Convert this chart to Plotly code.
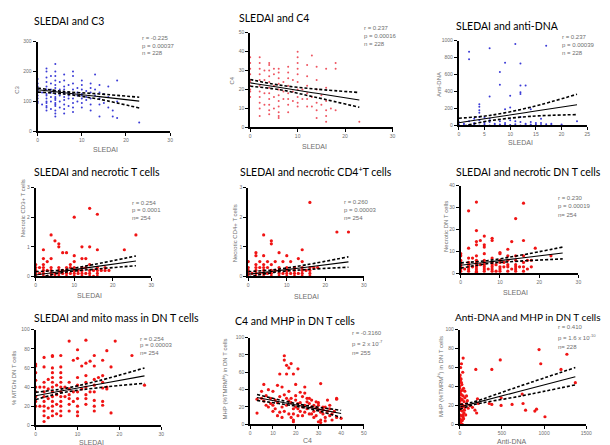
import plotly.graph_objects as go

# ---------------- data ----------------
# 1. SLEDAI vs C3
c3_sledai = [0,0,0,0,0,0,0,0,0,0, 1,1, 2,2,2,2,2,2,2,2,2,2,2,2,2,2, 3,3,3,3,3,3,3,
             4,4,4,4,4,4,4,4,4,4,4,4,4,4,4,4,4, 5,5,5,5,5,5, 6,6,6,6,6,6,6,6,6,6,6,
             7,7,7,7,7, 8,8,8,8,8,8,8,8,8, 9,9,9,9, 10,10,10,10,10,10,10,10, 11,11,11,
             12,12,12,12,12,12, 13,13,13, 14,14,14,14,14, 15,15, 16,16,16, 17,17, 18,18,18, 23]
c3_vals = [95,110,120,130,140,150,160,175,100,135, 90,130,
           70,80,95,110,125,140,150,165,180,200,210,120,100,85, 75,100,130,160,185,140,115,
           50,60,70,85,95,105,115,125,135,145,155,170,185,200,225,110,90, 80,100,120,140,165,130,
           60,75,90,105,115,130,150,170,190,125,140, 85,110,130,155,120,
           65,80,95,110,125,140,160,185,200, 100,120,145,130, 80,95,110,125,140,155,170,120,
           105,135,115, 70,90,110,130,145,160, 120,190,140, 50,90,110,130,155, 95,125,
           80,115,150, 50,70, 45,100,170, 30]

# 2. SLEDAI vs C4
c4_sledai = [0,0,0,0,0,0,0,0,0,0, 2,2,2,2,2,2,2,2,2,2,2, 3,3,3,3, 4,4,4,4,4,4,4,4,4,4,4,
             5,5,5,5,5, 6,6,6,6,6,6,6,6,6,6,6, 7,7,7, 8,8,8,8,8,8,8,8, 9,9,9,
             10,10,10,10,10,10,10,10,10,10, 11,11, 12,12,12,12,12,12, 13,13,13,
             14,14,14,14,14,14, 15,15, 16,16,16,16,16,16, 17, 18,18,18, 23]
c4_vals = [16,19,22,25,28,31,34,37,20,24, 6,10,13,16,19,22,25,28,31,34,37, 12,18,25,30,
           7,9,12,15,18,21,24,27,30,33,34, 10,16,22,28,31, 5,6,8,11,14,17,20,23,26,29,31,
           15,19,24, 8,12,15,18,22,26,29,32, 14,19,25, 11,13,16,20,24,28,31,34,37,40,
           15,20, 11,15,18,22,27,33, 11,16,38, 5,9,13,20,25,32, 12,17, 3,6,9,14,21,31,
           10, 9,31,34, 3]

# 3. SLEDAI vs anti-DNA
dna_sledai = [2,2,6,9,8,8,11,12,12,12,12,13,17,6,10,4,4,4,4,9,10,14,16,23,12,14,
              0,1,2,3,4,4,5,6,6,7,8,8,9,10,10,11,12,13,14,15,16,18,2,3,0,5,
              0,2,4,6,8,10,12,14, 1,3,5,7,9,11,13,15,17,16,18,20]
dna_vals = [870,780,910,740,630,480,960,730,470,390,370,470,940,340,350,250,220,180,150,190,210,190,80,50,100,40,
            10,20,5,30,60,100,10,40,80,20,50,10,30,60,5,15,40,20,10,30,5,20,50,80,40,90,
            0,0,0,0,0,0,0,0, 5,10,30,5,10,50,5,10,15,30,5,10]

# 4. SLEDAI vs necrotic CD3+ T cells
cd3_sledai = [10,14,16,4,5,6,6,26,12,14,16,23,2,7,8,10,9,4,2,3,10,12,13,
              0,0,0,0,0, 2,2,2,2,2, 4,4,4,4, 6,6,6,6, 8,8,8,8, 10,10,10,10, 12,12,12,12,
              14,14,14,14, 16,16,16,16, 17,18,18,19, 3,5,7,9,11,13,15,1, 3,5,7,9,11,13,15,1]
cd3_vals = [2.0,2.3,2.1,1.4,1.2,1.1,1.0,1.4,1.0,1.0,0.9,0.9,0.9,0.8,0.8,0.7,0.4,0.6,0.6,0.5,0.5,0.6,0.6,
            0.4,0.3,0.2,0.1,0.0, 0.4,0.3,0.2,0.1,0.0, 0.3,0.2,0.1,0.0, 0.3,0.2,0.1,0.0,
            0.3,0.2,0.1,0.0, 0.3,0.2,0.1,0.0, 0.3,0.2,0.1,0.0, 0.4,0.2,0.1,0.0, 0.3,0.2,0.1,0.0,
            0.2,0.3,0.2,0.2, 0.2,0.1,0.1,0.1,0.2,0.1,0.2,0.1, 0.0,0.0,0.2,0.3,0.1,0.3,0.0,0.3]

# 5. SLEDAI vs necrotic CD4+ T cells
cd4_sledai = [16,23,26,4,6,6,14,2,2,4,8,10,13,14,3,5,7,9,11,0,
              0,0,0,0, 2,2,2,2,2, 4,4,4,4,4, 6,6,6,6, 8,8,8,8, 10,10,10,10, 12,12,12,12,
              14,14,14,14, 16,16,16,16, 17,18, 3,5,7,9,11,13,15,1,3,5]
cd4_vals = [2.5,1.5,1.5,1.4,1.2,1.1,0.9,0.8,0.7,0.7,0.8,0.7,0.6,0.5,0.5,0.5,0.5,0.5,0.5,0.5,
            0.3,0.2,0.1,0.0, 0.4,0.3,0.2,0.1,0.0, 0.4,0.3,0.2,0.1,0.0, 0.4,0.2,0.1,0.0,
            0.3,0.2,0.1,0.0, 0.3,0.2,0.1,0.0, 0.3,0.2,0.1,0.0, 0.3,0.2,0.1,0.0, 0.3,0.2,0.1,0.0,
            0.3,0.3, 0.1,0.1,0.2,0.1,0.1,0.1,0.2,0.1,0.3,0.3]

# 6. SLEDAI vs necrotic DN T cells
dn_sledai = [4,16,2,14,4,6,8,8,16,13,4,5,4,6,6,2,12,19,10,10,0,0,12,14,16,4,6,23,2,3,18,
             0,0,0,0,0,0, 2,2,2,2,2, 4,4,4,4,4,4,4, 6,6,6,6,6,6, 8,8,8,8,8,8, 10,10,10,10,10,
             12,12,12,12, 14,14,14,14,14, 16,16,16, 17,18,1,3,5,7,9,11,13,15,17,11,9]
dn_vals = [32.5,32,28.5,25,19.5,17,16,15,15,14.5,14.5,15,13,13,12,11.5,11,11.5,9.5,9,9,8,8,8,8,8,9,8,7,7,6,
           6,5,4,3,2,1, 5,4,3,2,1, 6,5,4,3,2,1,0.5, 6,5,4,3,2,1, 7,5,4,3,2,1, 6,5,3,2,1,
           6,4,3,1, 6,4,3,2,1, 5,3,1, 2,3,2,3,4,2,4,3,2,3,6,5,1]

# 7. SLEDAI vs % MTGhi DN T cells
mtg_sledai = [8,12,19,23,26,17,10,14,4,4,6,2,0,0,0,9,10,11,13,16,12,18,14,2,4,6,
              0,0,0,0,0,0, 2,2,2,2,2,2,2,2,2, 3,3,3,3, 4,4,4,4,4,4,4,4,4,4, 5,5,5,5,
              6,6,6,6,6,6,6,6,6,6, 7,7, 8,8,8,8,8,8, 9,9, 10,10,10,10,10,10,10, 11,
              12,12,12,12,12,12, 13, 14,14,14,14,14,14, 15, 16,16,16,16,16, 17,17,18,1,1,3]
mtg_vals = [88,89,88,73,42,78,79,73,73,72,73,71,64,62,55,68,70,62,67,68,65,61,62,61,60,61,
            47,40,35,30,25,20, 45,40,35,30,25,20,15,10,4, 48,38,28,18,
            55,50,45,40,35,30,25,20,15,10, 42,32,22,12, 55,50,45,40,35,30,25,20,15,10, 40,30,
            45,38,32,28,22,15, 35,25, 50,42,35,28,20,14,10, 38, 52,45,40,32,28,22, 35,
            48,42,35,26,20,15, 50, 52,45,39,25,21, 40,38,13,20,40,8]

# 8. C4 vs MHP in DN T cells
mhp_c4 = [15,15,16,17,18,21,16,13,19,31,6,12,20,14,24,5,8,10,17,22,38,38,34,3,3,
          7,9,11,13,15,18,20,23,25,27,29,30,32,35,37,40,
          10,12,14,15,16,17,18,19,20,21,22,23,24,25,26,27,28,29,30,30,31,31,32,33,34,35,36,36,38,
          8,9,11,12,13,14,19,21,22,24,26,28,30,32,33,
          19,20,21,23,25,27,29,10,16,17,24,26,28,31,33,35,6,7,5,18,19]
mhp_c4_vals = [79,74,68,65,70,64,58,58,58,47,46,45,46,43,43,38,40,38,38,37,30,29,28,29,13,
               33,30,28,32,34,30,33,32,30,28,26,22,20,18,15,7,
               22,25,20,15,22,12,25,18,20,24,15,20,22,18,12,20,15,10,17,3,14,5,12,8,15,10,12,5,8,
               20,24,18,10,14,8,5,10,25,14,24,22,25,17,20,
               12,28,18,10,26,12,19,15,30,27,36,30,8,2,4,22,27,22,30,8,3]

# 9. anti-DNA vs MHP in DN T cells
mhp_dna = [940,1270,40,480,960,20,190,380,1200,1370,740,
           10,0,20,0,0,30,10,0,20,40,0,10,30,50,0,20,40,60,0,10,30,50,0,20,40,0,10,30,0,
           60,80,100,70,90,210,220,180,350,380,490,620,750,780,890,910,1010,490,
           5,15,25,45,0,35,10,60,80,120,150,200,5,15,25,35,45,55,0,10,30]
mhp_dna_vals = [79,74,70,68,64,64,58,58,58,44,32,
                47,45,44,40,38,36,35,33,31,30,28,27,26,24,22,21,20,18,16,15,14,12,10,9,8,6,5,4,3,
                28,22,17,10,25,27,22,15,22,21,20,21,22,15,14,16,8,28,
                52,48,42,38,50,55,60,35,30,20,18,12,25,32,18,10,6,15,0,2,0]

# regression lines and 95% bands (read at a few x positions)
fit_sledai = [0, 6, 14, 23]
c3_fit, c3_hi, c3_lo = [139, 129, 116, 101], [145, 133, 125, 114], [131, 125, 107, 78]
c4_fit, c4_hi, c4_lo = [23.5, 21.2, 18.0, 14.5], [25.3, 22.4, 20.2, 18.4], [21.7, 20.0, 15.8, 10.6]
dna_fit, dna_hi, dna_lo = [31, 87, 161, 244], [85, 118, 215, 368], [-20, 55, 107, 128]
fit_sledai26 = [0, 7, 15, 26]
cd3_fit, cd3_hi, cd3_lo = [0.045, 0.173, 0.32, 0.52], [0.16, 0.22, 0.40, 0.69], [-0.07, 0.13, 0.24, 0.36]
cd4_fit, cd4_hi, cd4_lo = [0.07, 0.183, 0.31, 0.49], [0.16, 0.23, 0.39, 0.66], [-0.02, 0.14, 0.23, 0.31]
dn_fit, dn_hi, dn_lo = [3.7, 5.2, 6.9, 9.3], [4.8, 5.9, 8.2, 12.0], [2.4, 4.5, 5.6, 6.6]
mtg_fit, mtg_hi, mtg_lo = [31, 36.6, 42.9, 51.7], [34.5, 38.6, 46.5, 60], [27, 34.6, 39.3, 44]
fit_c4 = [3, 22, 31, 40]
mhpc4_fit, mhpc4_hi, mhpc4_lo = [31, 21.5, 17, 12.5], [34.3, 23, 19.3, 16.2], [27.5, 20, 14.8, 8.0]
fit_dna = [0, 150, 700, 1370]
mhpdna_fit, mhpdna_hi, mhpdna_lo = [18.4, 21.9, 34.7, 50.3], [20.8, 23.4, 40, 60], [15.6, 20.4, 29.5, 41.7]

W, H = 610, 445
BLUE = '#3b3bd6'
PINK = '#ee5561'
RED = '#f01414'
GREY = '#6e6e6e'

panels = [
    dict(x=c3_sledai, y=c3_vals, color=BLUE, size=2, dom=(29, 163, 31, 122), xr=30, yr=300,
         xt=[0, 10, 20, 30], yt=[0, 100, 200, 300],
         fx=fit_sledai, f=c3_fit, hi=c3_hi, lo=c3_lo,
         title='SLEDAI and C3', tpos=(23, 10),
         stats=['r = -0.225', 'p = 0.00037', 'n = 228'], spos=(133, [27, 35, 43]),
         xlab='SLEDAI', xlpos=(98, 140), ylab='C3', ylpos=(8, 80)),
    dict(x=c4_sledai, y=c4_vals, color=PINK, size=2, dom=(244, 388, 22, 118), xr=30, yr=50,
         xt=[0, 10, 20, 30], yt=[0, 10, 20, 30, 40, 50],
         fx=fit_sledai, f=c4_fit, hi=c4_hi, lo=c4_lo,
         title='SLEDAI and C4', tpos=(231, 7),
         stats=['r = 0.237', 'p = 0.00016', 'n = 228'], spos=(357, [17, 25, 33]),
         xlab='SLEDAI', xlpos=(309, 137), ylab='C4', ylpos=(226, 70)),
    dict(x=dna_sledai, y=dna_vals, color=BLUE, size=2, dom=(455, 585, 30, 116), xr=25, yr=1000,
         xt=[0, 5, 10, 15, 20, 25], yt=[0, 200, 400, 600, 800, 1000],
         fx=fit_sledai, f=dna_fit, hi=dna_hi, lo=dna_lo,
         title='SLEDAI and anti-DNA', tpos=(450, 15),
         stats=['r = 0.237', 'p = 0.00039', 'n = 228'], spos=(557, [26, 34, 43]),
         xlab='SLEDAI', xlpos=(517, 133), ylab='Anti-DNA', ylpos=(435, 75)),
    dict(x=cd3_sledai, y=cd3_vals, color=RED, size=3.2, dom=(27, 144, 179, 269), xr=30, yr=3,
         xt=[0, 10, 20, 30], yt=[0, 1, 2, 3],
         fx=fit_sledai26, f=cd3_fit, hi=cd3_hi, lo=cd3_lo,
         title='SLEDAI and necrotic T cells', tpos=(23, 163),
         stats=['r = 0.254', 'p = 0.0001', 'n= 254'], spos=(122, [195, 202, 210]),
         xlab='SLEDAI', xlpos=(81, 288), ylab='Necrotic CD3+ T cells', ylpos=(14, 200)),
    dict(x=cd4_sledai, y=cd4_vals, color=RED, size=3.2, dom=(242, 359, 179, 269), xr=30, yr=3,
         xt=[0, 10, 20, 30], yt=[0, 1, 2, 3],
         fx=fit_sledai26, f=cd4_fit, hi=cd4_hi, lo=cd4_lo,
         title='SLEDAI and necrotic CD4<sup>+</sup>T cells', tpos=(232, 163),
         stats=['r = 0.260', 'p = 0.00003', 'n= 254'], spos=(337, [194, 202, 210]),
         xlab='SLEDAI', xlpos=(301, 289), ylab='Necrotic CD4+ T cells', ylpos=(229, 225)),
    dict(x=dn_sledai, y=dn_vals, color=RED, size=3.2, dom=(457, 576, 177, 266), xr=30, yr=40,
         xt=[0, 10, 20, 30], yt=[0, 10, 20, 30, 40],
         fx=fit_sledai26, f=dn_fit, hi=dn_hi, lo=dn_lo,
         title='SLEDAI and necrotic DN T cells', tpos=(450, 163),
         stats=['r = 0.230', 'p = 0.00019', 'n= 254'], spos=(553, [190, 198, 207]),
         xlab='SLEDAI', xlpos=(512, 285), ylab='Necrotic DN T cells', ylpos=(442, 218)),
    dict(x=mtg_sledai, y=mtg_vals, color=RED, size=3.2, dom=(27, 154, 323, 420), xr=30, yr=100,
         xt=[0, 10, 20, 30], yt=[0, 20, 40, 60, 80, 100],
         fx=fit_sledai26, f=mtg_fit, hi=mtg_hi, lo=mtg_lo,
         title='SLEDAI and mito mass in DN T cells', tpos=(23, 311),
         stats=['r = 0.254', 'p = 0.00003', 'n= 254'], spos=(130, [332, 339, 347]),
         xlab='SLEDAI', xlpos=(83, 437), ylab='% MTGhi DN T cells', ylpos=(5, 372)),
    dict(x=mhp_c4, y=mhp_c4_vals, color=RED, size=3.2, dom=(244, 359, 331, 419), xr=50, yr=100,
         xt=[0, 10, 20, 30, 40, 50], yt=[0, 20, 40, 60, 80, 100],
         fx=fit_c4, f=mhpc4_fit, hi=mhpc4_hi, lo=mhpc4_lo,
         title='C4 and MHP in DN T cells', tpos=(227, 314),
         stats=['r = -0.3160', 'p = 2 x 10<sup>-7</sup>', 'n= 255'], spos=(345, [326, 337, 347]),
         xlab='C4', xlpos=(302, 435), ylab='MHP (%TMRM<sup>hi</sup>) in DN T cells', ylpos=(218, 373)),
    dict(x=mhp_dna, y=mhp_dna_vals, color=RED, size=3.2, dom=(456, 584, 323, 419), xr=1500, yr=100,
         xt=[0, 500, 1000, 1500], yt=[0, 20, 40, 60, 80, 100],
         fx=fit_dna, f=mhpdna_fit, hi=mhpdna_hi, lo=mhpdna_lo,
         title='Anti-DNA and MHP in DN T cells', tpos=(449, 310), tsize=10,
         stats=['r = 0.410', 'p = 1.6 x 10<sup>-10</sup>', 'n= 228'], spos=(553, [320, 330, 341]),
         xlab='Anti-DNA', xlpos=(509, 436), ylab='MHP (%TMRM<sup>hi</sup>) in DN T cells', ylpos=(436, 370)),
]

fig = go.Figure()
annotations = []
layout_axes = {}

for i, p in enumerate(panels, start=1):
    assert len(p['x']) == len(p['y']), (i, len(p['x']), len(p['y']))
    sfx = '' if i == 1 else str(i)
    xa, ya = 'x' + sfx, 'y' + sfx
    x0, x1, y0, y1 = p['dom']

    fig.add_trace(go.Scatter(x=p['x'], y=p['y'], mode='markers', xaxis=xa, yaxis=ya,
                             marker=dict(color=p['color'], size=p['size'], line=dict(width=0)),
                             cliponaxis=False, showlegend=False, hoverinfo='skip'))
    fig.add_trace(go.Scatter(x=p['fx'], y=p['f'], mode='lines', xaxis=xa, yaxis=ya,
                             line=dict(color='black', width=1.1, shape='spline'),
                             showlegend=False, hoverinfo='skip'))
    for band in (p['hi'], p['lo']):
        fig.add_trace(go.Scatter(x=p['fx'], y=band, mode='lines', xaxis=xa, yaxis=ya,
                                 line=dict(color='black', width=1.6, dash='3px,2px', shape='spline'),
                                 showlegend=False, hoverinfo='skip'))

    common = dict(showline=True, linecolor='black', linewidth=2, ticks='outside', ticklen=3,
                  tickwidth=1, tickcolor='black', showgrid=False, zeroline=False,
                  tickfont=dict(family='Liberation Sans', size=5, color=GREY))
    layout_axes['xaxis' + sfx] = dict(domain=[x0 / W, x1 / W], range=[0, p['xr']], tickvals=p['xt'],
                                      anchor=ya, **common)
    layout_axes['yaxis' + sfx] = dict(domain=[1 - y1 / H, 1 - y0 / H], range=[0, p['yr']], tickvals=p['yt'],
                                      anchor=xa, **common)

    tx, ty = p['tpos']
    annotations.append(dict(text=p['title'], x=tx / W, y=1 - ty / H, xref='paper', yref='paper',
                            xanchor='left', yanchor='middle', showarrow=False,
                            font=dict(family='Lato', size=p.get('tsize', 10.5), color='black')))
    sx, sys_ = p['spos']
    for line, yy in zip(p['stats'], sys_):
        annotations.append(dict(text=line, x=sx / W, y=1 - yy / H, xref='paper', yref='paper',
                                xanchor='left', yanchor='middle', showarrow=False,
                                font=dict(family='Liberation Sans', size=6, color=GREY)))
    lx, ly = p['xlpos']
    annotations.append(dict(text=p['xlab'], x=lx / W, y=1 - ly / H, xref='paper', yref='paper',
                            xanchor='center', yanchor='middle', showarrow=False,
                            font=dict(family='Liberation Sans', size=7, color=GREY)))
    vx, vy = p['ylpos']
    annotations.append(dict(text=p['ylab'], x=vx / W, y=1 - vy / H, xref='paper', yref='paper',
                            xanchor='center', yanchor='middle', showarrow=False, textangle=-90,
                            font=dict(family='Liberation Sans', size=6, color=GREY)))

fig.update_layout(
    width=W, height=H,
    margin=dict(l=0, r=0, t=0, b=0),
    paper_bgcolor='white', plot_bgcolor='white',
    annotations=annotations,
    **layout_axes,
)

fig.write_html("out.html")
